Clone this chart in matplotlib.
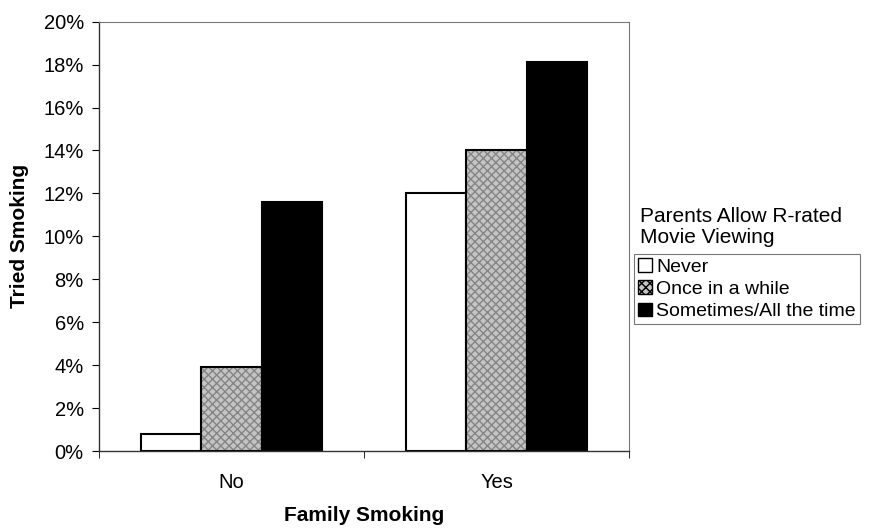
import matplotlib.pyplot as plt
import matplotlib.patches as mpatches
import numpy as np

plt.rcParams['font.family'] = ['Liberation Sans', 'DejaVu Sans']

# data
groups = ["No", "Yes"]
series = ["Never", "Once in a while", "Sometimes/All the time"]
never = [0.8, 12.0]
once = [3.9, 14.0]
sometimes = [11.6, 18.1]

values = [never, once, sometimes]
faces = ["white", "#c4c4c4", "black"]
hatches = [None, "xxxx", None]

fig = plt.figure(figsize=(8.71, 5.28), dpi=100)
ax = fig.add_axes([0.1137, 0.1458, 0.6085, 0.8131])

x = np.arange(len(groups)) + 0.5
width = 0.227

for i, vals in enumerate(values):
    pos = x + (i - 1) * width
    if hatches[i]:
        ax.bar(pos, vals, width, color=faces[i], edgecolor="#858585",
               hatch=hatches[i], linewidth=0)
        ax.bar(pos, vals, width, fill=False, edgecolor="black", linewidth=1.5)
    else:
        ax.bar(pos, vals, width, color=faces[i], edgecolor="black", linewidth=1.5)

ax.set_xlim(0, 2)
ax.set_ylim(0, 20)
ax.set_yticks(np.arange(0, 21, 2))
ax.set_yticklabels([f"{v}%" for v in range(0, 21, 2)])
ax.set_xticks(x)
ax.set_xticklabels(groups)
ax.set_xticks([0, 1, 2], minor=True)
ax.tick_params(axis="x", which="major", length=0, pad=16, labelsize=14.5)
ax.tick_params(axis="x", which="minor", length=5, direction="out")
ax.tick_params(axis="y", length=5, direction="out", pad=6, labelsize=14.5)

for s in ["left", "bottom"]:
    ax.spines[s].set_color("#333333")
    ax.spines[s].set_linewidth(1.0)
for s in ["top", "right"]:
    ax.spines[s].set_color("#777777")
    ax.spines[s].set_linewidth(0.8)

ax.set_xlabel("Family Smoking", fontsize=15, fontweight="bold", labelpad=10)
ax.set_ylabel("Tried Smoking", fontsize=15, fontweight="bold", labelpad=10)

# legend: title outside the box, Excel style
fig.text(640 / 871, 1 - 227 / 528, "Parents Allow R-rated\nMovie Viewing",
         fontsize=15, ha="left", va="center", linespacing=1.15)
handles = []
for i, name in enumerate(series):
    handles.append(mpatches.Patch(facecolor=faces[i], edgecolor="black",
                                  hatch=hatches[i], linewidth=1.0, label=name))
leg = fig.legend(handles=handles, loc="upper left",
                 bbox_to_anchor=(634 / 871, 1 - 254 / 528),
                 fontsize=14, frameon=True, fancybox=False,
                 handlelength=0.7, handleheight=0.7, handletextpad=0.25,
                 labelspacing=0.25, borderpad=0.2, borderaxespad=0)
leg.get_frame().set_edgecolor("#555555")
leg.get_frame().set_linewidth(0.8)

fig.savefig("out.png", dpi=100)
